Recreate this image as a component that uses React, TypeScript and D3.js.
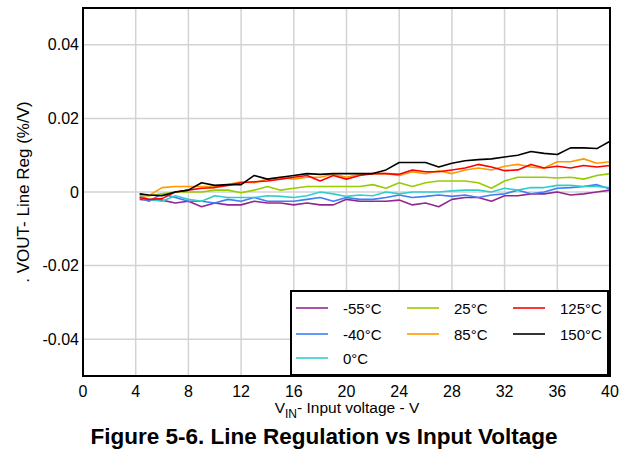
import React, { useEffect, useRef } from "react";
import * as d3 from "d3";

const vin = [4.3, 5, 6, 7, 8, 9, 10, 11, 12, 13, 14, 15, 16, 17, 18, 19, 20, 21, 22, 23, 24, 25, 26, 27, 28, 29, 30, 31, 32, 33, 34, 35, 36, 37, 38, 39, 40];

const m55 = [-0.002, -0.0022, -0.0022, -0.003, -0.0025, -0.004, -0.003, -0.0035, -0.0035, -0.0025, -0.003, -0.003, -0.0035, -0.003, -0.0035, -0.0035, -0.002, -0.0025, -0.0025, -0.0025, -0.0022, -0.0035, -0.003, -0.004, -0.002, -0.0015, -0.0015, -0.0025, -0.001, -0.001, -0.0005, -0.0005, 0, -0.0008, -0.0005, 0, 0.0005];
const m40 = [-0.0015, -0.0025, -0.0005, -0.0015, -0.0025, -0.0025, -0.003, -0.002, -0.0025, -0.0015, -0.0025, -0.0025, -0.0025, -0.002, -0.0015, -0.0025, -0.0015, -0.002, -0.002, -0.0015, -0.0008, -0.0015, -0.0012, -0.0008, -0.0012, -0.0008, -0.0015, -0.0008, -0.0005, 0.0005, -0.0005, 0, 0.001, 0.0012, 0.0015, 0.002, 0.0008];
const t0 = [-0.001, -0.002, -0.0025, -0.001, -0.002, -0.0025, -0.001, -0.0015, -0.0015, -0.0015, -0.001, -0.0012, -0.0015, -0.001, 0, -0.0005, -0.0012, -0.0008, -0.001, 0, -0.0005, 0, 0, 0, 0.0003, 0.0005, 0.0005, 0, 0.001, 0.0005, 0.0012, 0.0012, 0.0018, 0.0018, 0.0015, 0.0015, 0.0012];
const t25 = [-0.0005, -0.001, -0.0005, 0, 0, 0, 0.0005, 0.0005, -0.0002, 0.0005, 0.0015, 0.0005, 0.001, 0.0015, 0.0015, 0.0015, 0.0015, 0.0015, 0.002, 0.001, 0.0025, 0.0015, 0.0025, 0.003, 0.003, 0.003, 0.0025, 0.001, 0.003, 0.004, 0.004, 0.004, 0.0038, 0.004, 0.0035, 0.0045, 0.005];
const t85 = [-0.001, -0.001, 0.0012, 0.0015, 0.0015, 0.0015, 0.0015, 0.002, 0.0028, 0.0025, 0.0035, 0.004, 0.0035, 0.004, 0.004, 0.0048, 0.004, 0.0048, 0.005, 0.005, 0.0045, 0.0055, 0.005, 0.0058, 0.005, 0.006, 0.0065, 0.006, 0.007, 0.0075, 0.0068, 0.0065, 0.0082, 0.0082, 0.009, 0.0078, 0.0082];
const t125 = [-0.0015, -0.002, -0.0018, 0, 0.0005, 0.001, 0.0012, 0.0018, 0.0025, 0.0028, 0.003, 0.0035, 0.004, 0.0045, 0.003, 0.0045, 0.0035, 0.0045, 0.005, 0.005, 0.0048, 0.006, 0.0055, 0.0055, 0.006, 0.0065, 0.0075, 0.0068, 0.0058, 0.006, 0.0075, 0.0065, 0.007, 0.0065, 0.0072, 0.0068, 0.0072];
const t150 = [-0.0005, -0.0008, -0.001, 0, 0.0005, 0.0025, 0.0018, 0.002, 0.002, 0.0045, 0.0035, 0.004, 0.0045, 0.005, 0.0048, 0.005, 0.005, 0.005, 0.005, 0.006, 0.008, 0.008, 0.008, 0.0068, 0.0078, 0.0085, 0.0088, 0.009, 0.0095, 0.01, 0.011, 0.0105, 0.0102, 0.012, 0.012, 0.0118, 0.0138];

const xTicks = [0, 4, 8, 12, 16, 20, 24, 28, 32, 36, 40];
const yTicks = [0.04, 0.02, 0, -0.02, -0.04];

const series = [
  { name: "-55°C", color: "#92278f", values: m55 },
  { name: "-40°C", color: "#3f7ef5", values: m40 },
  { name: "0°C", color: "#33cccc", values: t0 },
  { name: "25°C", color: "#99cc00", values: t25 },
  { name: "85°C", color: "#ff9900", values: t85 },
  { name: "125°C", color: "#ff0000", values: t125 },
  { name: "150°C", color: "#000000", values: t150 },
];

const W = 624;
const H = 461;
const margin = { left: 83, top: 8, right: 14, bottom: 85 };

export default function App() {
  const ref = useRef<SVGSVGElement>(null);

  useEffect(() => {
    const svg = d3.select(ref.current);
    svg.html("");
    const font = "'Liberation Sans', Arial, sans-serif";

    const x = d3.scaleLinear().domain([0, 40]).range([margin.left, W - margin.right]);
    const y = d3.scaleLinear().domain([-0.05, 0.05]).range([H - margin.bottom, margin.top]);

    const g = svg.append("g");

    // grid
    g.selectAll(".vg")
      .data(xTicks.slice(1, -1))
      .enter()
      .append("line")
      .attr("x1", (d) => x(d))
      .attr("x2", (d) => x(d))
      .attr("y1", y(0.05))
      .attr("y2", y(-0.05))
      .attr("stroke", "#d3d3d3")
      .attr("stroke-width", 1.5);
    g.selectAll(".hg")
      .data(yTicks)
      .enter()
      .append("line")
      .attr("x1", x(0))
      .attr("x2", x(40))
      .attr("y1", (d) => y(d))
      .attr("y2", (d) => y(d))
      .attr("stroke", "#d3d3d3")
      .attr("stroke-width", 1.5);

    // series, hotter curves drawn last
    const line = d3
      .line<number>()
      .x((_, i) => x(vin[i]))
      .y((d) => y(d));
    series.forEach((s) => {
      g.append("path")
        .datum(s.values)
        .attr("fill", "none")
        .attr("stroke", s.color)
        .attr("stroke-width", 1.6)
        .attr("stroke-linejoin", "round")
        .attr("d", line);
    });

    // frame
    g.append("rect")
      .attr("x", x(0))
      .attr("y", y(0.05))
      .attr("width", x(40) - x(0))
      .attr("height", y(-0.05) - y(0.05))
      .attr("fill", "none")
      .attr("stroke", "#000")
      .attr("stroke-width", 2);

    // tick labels
    g.selectAll(".xt")
      .data(xTicks)
      .enter()
      .append("text")
      .attr("x", (d) => x(d))
      .attr("y", y(-0.05) + 21)
      .attr("text-anchor", "middle")
      .attr("font-family", font)
      .attr("font-size", 16)
      .text((d) => String(d));
    g.selectAll(".yt")
      .data(yTicks)
      .enter()
      .append("text")
      .attr("x", x(0) - 4)
      .attr("y", (d) => y(d) + 5.5)
      .attr("text-anchor", "end")
      .attr("font-family", font)
      .attr("font-size", 16)
      .text((d) => (d === 0 ? "0" : d.toFixed(2)));

    // axis titles
    const xl = g
      .append("text")
      .attr("x", 347)
      .attr("y", 413)
      .attr("text-anchor", "middle")
      .attr("font-family", font)
      .attr("font-size", 15.5);
    xl.append("tspan").text("V");
    xl.append("tspan").attr("dy", 5).attr("font-size", 12).text("IN");
    xl.append("tspan").attr("dy", -5).text("- Input voltage - V");

    g.append("text")
      .attr("transform", `translate(29,${(y(0.05) + y(-0.05)) / 2}) rotate(-90)`)
      .attr("text-anchor", "middle")
      .attr("font-family", font)
      .attr("font-size", 17)
      .text(". VOUT- Line Reg (%/V)");

    // title
    g.append("text")
      .attr("x", 324)
      .attr("y", 444)
      .attr("text-anchor", "middle")
      .attr("font-family", font)
      .attr("font-size", 22.5)
      .attr("font-weight", "bold")
      .text("Figure 5-6. Line Regulation vs Input Voltage");

    // legend
    const lg = g.append("g");
    lg.append("rect")
      .attr("x", 291)
      .attr("y", 291)
      .attr("width", 317)
      .attr("height", 84)
      .attr("fill", "#fff")
      .attr("stroke", "#000")
      .attr("stroke-width", 2);
    const cols = [296, 407, 513];
    const rows = [308, 334, 358];
    const layout = [
      ["-55°C", 0, 0],
      ["-40°C", 0, 1],
      ["0°C", 0, 2],
      ["25°C", 1, 0],
      ["85°C", 1, 1],
      ["125°C", 2, 0],
      ["150°C", 2, 1],
    ] as [string, number, number][];
    layout.forEach(([name, c, r]) => {
      const s = series.find((t) => t.name === name)!;
      lg.append("line")
        .attr("x1", cols[c])
        .attr("x2", cols[c] + 32)
        .attr("y1", rows[r])
        .attr("y2", rows[r])
        .attr("stroke", s.color)
        .attr("stroke-width", 1.6);
      lg.append("text")
        .attr("x", cols[c] + 47)
        .attr("y", rows[r] + 5.5)
        .attr("font-family", font)
        .attr("font-size", 15)
        .text(name);
    });
  }, []);

  return (
    <svg
      ref={ref}
      width={W}
      height={H}
      style={{ position: "absolute", left: 0, top: 0, background: "#fff" }}
    />
  );
}
